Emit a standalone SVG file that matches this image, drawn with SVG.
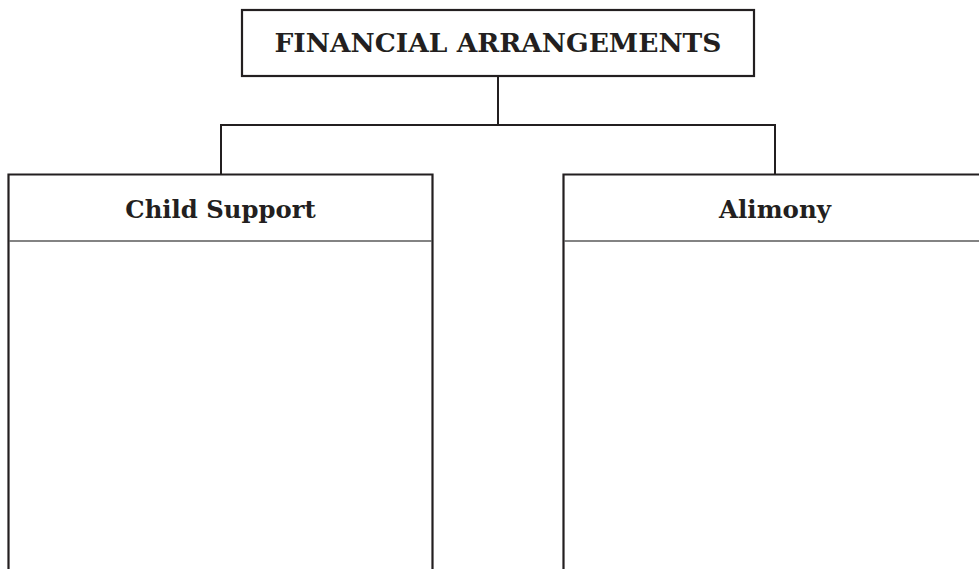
<svg xmlns="http://www.w3.org/2000/svg" width="979" height="569" viewBox="0 0 979 569">
<style>
.box{fill:#fff;stroke:#231f20;stroke-width:2.2}
.div{stroke:#5a5a5a;stroke-width:1.6}
.conn{fill:none;stroke:#231f20;stroke-width:2}
.t{font-family:"DejaVu Serif","Liberation Serif",serif;font-weight:bold;fill:#231f20;text-anchor:middle}
</style>
<rect width="979" height="569" fill="#fff"/>
<g id="connectors">
<path class="conn" d="M498 76 V125 M221 125 H775 M221 124 V175 M775 124 V175"/>
</g>
<g id="root">
<rect class="box" x="242" y="10" width="512" height="66"/>
<text class="t" x="498" y="52" font-size="26.5">FINANCIAL ARRANGEMENTS</text>
</g>
<g id="child-support">
<path class="box" d="M8.5 571 V174.5 H432.5 V571"/>
<line class="div" x1="9" y1="241" x2="432" y2="241"/>
<text class="t" x="220.5" y="218" font-size="24.3">Child Support</text>
</g>
<g id="alimony">
<path class="box" d="M563.5 571 V174.5 H985"/>
<line class="div" x1="564" y1="241" x2="985" y2="241"/>
<text class="t" x="775" y="218" font-size="24.5">Alimony</text>
</g>
</svg>
